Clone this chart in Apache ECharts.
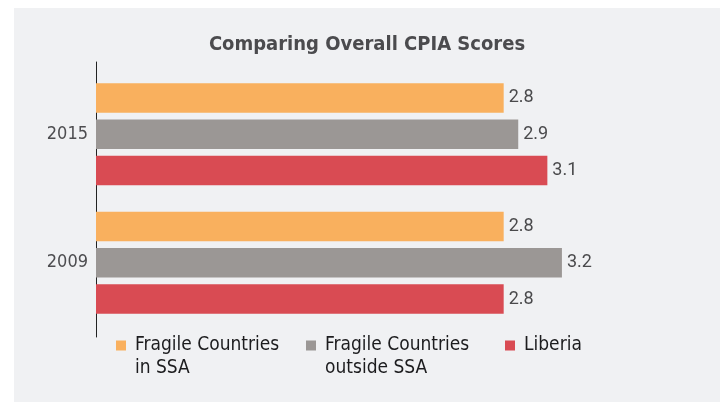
<!DOCTYPE html>
<html>
<head>
<meta charset="utf-8">
<script src="https://cdn.jsdelivr.net/npm/echarts@6/dist/echarts.min.js"></script>
<style>
  html, body { margin: 0; padding: 0; background: #ffffff; width: 720px; height: 402px; overflow: hidden; }
  #chart { position: absolute; left: 14px; top: 8px; width: 706px; height: 394px; background: #f0f1f3; }
</style>
</head>
<body>
<div id="chart"></div>
<script>
const title = 'Comparing Overall CPIA Scores';
const categories = ['2015', '2009'];
const seriesNames = ['Fragile Countries\nin SSA', 'Fragile Countries\noutside SSA', 'Liberia'];
const fragileSSA = [2.8, 2.8];
const fragileOutsideSSA = [2.9, 3.2];
const liberia = [3.1, 2.8];
const colors = ['#f9b05e', '#9b9795', '#d94b53'];

const narrow = "'Liberation Sans Narrow', 'Arial Narrow', 'DejaVu Sans Condensed', sans-serif";
const chart = echarts.init(document.getElementById('chart'));

function barSeries(name, data, color) {
  return {
    name: name, type: 'bar', data: data,
    xAxisIndex: 0, yAxisIndex: 0,
    barWidth: 29.5, barGap: '23%',
    itemStyle: { color: color },
    label: {
      show: true, position: 'right', distance: 5,
      fontFamily: 'Roboto, sans-serif', fontSize: 18, color: '#4a4a4c',
      formatter: p => p.value.toFixed(1)
    },
    emphasis: { disabled: true }
  };
}

// two-line names get a leading blank line so the first line sits level with the icon
function legendFor(i, left) {
  const twoLine = seriesNames[i].indexOf('\n') >= 0;
  return {
    data: [seriesNames[i]], left: left, top: twoLine ? 303 : 326,
    icon: 'rect', itemWidth: 10, itemHeight: 10,
    selectedMode: false,
    formatter: name => (twoLine ? '\n' : '') + name,
    textStyle: { fontFamily: narrow, fontSize: 19, lineHeight: 23, color: '#1c1c1e', padding: [0, 0, 0, 4] },
    padding: 0
  };
}

chart.setOption({
  animation: false,
  color: colors,
  title: {
    text: title, left: 'center', top: 27, padding: 0,
    textStyle: { fontFamily: narrow, fontWeight: 'bold', fontSize: 20, color: '#4b4b4e' }
  },
  legend: [legendFor(0, 102), legendFor(1, 292), legendFor(2, 491)],
  grid: [
    { left: 82, right: 41.6, top: 62, bottom: 75 },
    { left: 82, right: 41.6, top: 54, bottom: 65 }
  ],
  xAxis: [
    { gridIndex: 0, type: 'value', min: 0, max: 4, show: false },
    { gridIndex: 1, type: 'value', min: 0, max: 1, show: false }
  ],
  yAxis: [
    {
      gridIndex: 0, type: 'category', data: categories, inverse: true,
      axisLine: { show: false }, axisTick: { show: false }, splitLine: { show: false },
      axisLabel: { margin: 8, fontFamily: narrow, fontSize: 18, color: '#4d4d50' }
    },
    {
      gridIndex: 1, type: 'value', min: 0, max: 1,
      axisLine: { show: true, lineStyle: { color: '#222222', width: 1 } },
      axisTick: { show: false }, axisLabel: { show: false }, splitLine: { show: false }
    }
  ],
  series: [
    barSeries(seriesNames[0], fragileSSA, colors[0]),
    barSeries(seriesNames[1], fragileOutsideSSA, colors[1]),
    barSeries(seriesNames[2], liberia, colors[2])
  ]
});
</script>
</body>
</html>
